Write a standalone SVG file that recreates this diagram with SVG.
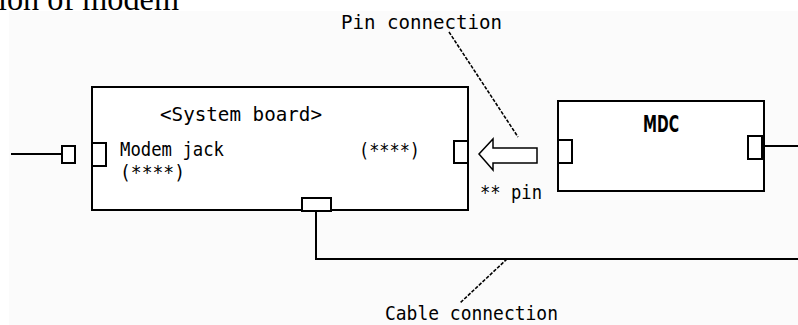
<svg xmlns="http://www.w3.org/2000/svg" width="798" height="325" viewBox="0 0 798 325">
<style>
.ln{stroke:#000;stroke-width:2;fill:none}
.bx{stroke:#000;stroke-width:2;fill:#fff}
.pt{stroke:#000;stroke-width:2;fill:#fff}
.t{font-family:"DejaVu Sans Mono","Liberation Mono",monospace;font-size:19.5px;fill:#000}
.dash{stroke:#000;stroke-width:1.6;stroke-dasharray:3.5 1.5;fill:none}
</style>
<rect x="0" y="0" width="798" height="325" fill="#fff"/>
<rect x="9" y="11" width="789" height="314" fill="#fbfbfb"/>
<text x="-2" y="10" font-family="'Liberation Serif',serif" font-size="33" textLength="181" lengthAdjust="spacingAndGlyphs">ion of modem</text>
<g id="system-board">
<rect class="bx" x="92" y="87" width="376" height="123"/>
<text class="t" x="160" y="121" textLength="162" lengthAdjust="spacingAndGlyphs">&lt;System board&gt;</text>
<rect class="pt" x="92" y="143" width="14" height="23"/>
<text class="t" x="120" y="156" textLength="104" lengthAdjust="spacingAndGlyphs">Modem jack</text>
<text class="t" x="120" y="179" textLength="65" lengthAdjust="spacingAndGlyphs">(****)</text>
<text class="t" x="359" y="157" textLength="61" lengthAdjust="spacingAndGlyphs">(****)</text>
<rect class="pt" x="454" y="141" width="14" height="22"/>
<rect class="pt" x="302" y="198" width="29" height="13"/>
</g>
<g id="modem-jack-plug">
<rect class="pt" x="62" y="146" width="13" height="17"/>
</g>
<g id="mdc">
<rect class="bx" x="558" y="101" width="206" height="90"/>
<text x="643" y="132" font-family="'DejaVu Sans','Liberation Sans',sans-serif" font-size="23" font-weight="bold" textLength="36" lengthAdjust="spacingAndGlyphs">MDC</text>
<rect class="pt" x="558" y="140" width="14" height="23"/>
<rect class="pt" x="748" y="136" width="14" height="23"/>
</g>
<g id="pin-arrow">
<polygon points="479,154 493,139 493,148 537,148 537,163 493,163 493,170" fill="#fff" stroke="#000" stroke-width="1.5"/>
<text class="t" x="480" y="199" textLength="62" lengthAdjust="spacingAndGlyphs">** pin</text>
</g>
<g id="connectors">
<line class="ln" x1="11" y1="154" x2="62" y2="154"/>
<line class="ln" x1="764" y1="146" x2="798" y2="146"/>
<polyline class="ln" points="316,211 316,259 798,259"/>
<line class="dash" x1="449" y1="32" x2="518" y2="137"/>
<line class="dash" x1="507" y1="259" x2="460" y2="303"/>
</g>
<g id="labels">
<text class="t" x="341" y="29" textLength="161" lengthAdjust="spacingAndGlyphs">Pin connection</text>
<text class="t" x="385" y="320" textLength="173" lengthAdjust="spacingAndGlyphs">Cable connection</text>
</g>
</svg>
